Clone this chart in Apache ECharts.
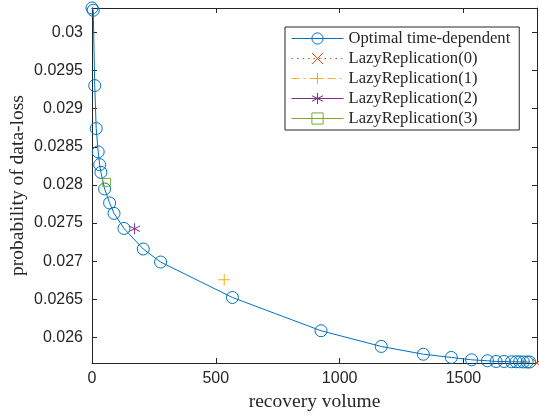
<!DOCTYPE html>
<html>
<head>
<meta charset="utf-8">
<script src="https://cdn.jsdelivr.net/npm/echarts@6/dist/echarts.min.js"></script>
<style>html,body{margin:0;padding:0;background:#fff;}#c{width:539px;height:420px;}</style>
</head>
<body>
<div id="c"></div>
<script>
// Data
const optimalX = [0, 5, 11, 17, 25, 31, 36, 51, 71, 89, 129, 207, 277, 567, 925, 1168, 1338, 1451, 1533, 1597, 1632, 1664, 1694, 1713, 1727, 1742, 1757, 1767];
const optimalY = [0.03032, 0.03029, 0.029303, 0.028739, 0.028433, 0.028266, 0.028165, 0.027947, 0.027764, 0.027627, 0.027430, 0.027160, 0.026989, 0.026524, 0.026088, 0.025882, 0.025780, 0.025738, 0.025707, 0.025694, 0.025685, 0.025685, 0.025681, 0.025681, 0.02568, 0.025679, 0.025678, 0.025678];
const lazy0 = [[1797, 0.025665]];
const lazy1 = [[534, 0.026757]];
const lazy2 = [[172, 0.027426]];
const lazy3 = [[59, 0.028034]];
const seriesNames = ['Optimal time-dependent', 'LazyReplication(0)', 'LazyReplication(1)', 'LazyReplication(2)', 'LazyReplication(3)'];
const colors = ['#0072BD', '#D95319', '#EDB120', '#7E2F8E', '#77AC30'];
const xTicks = [0, 500, 1000, 1500];
const yTicks = [0.026, 0.0265, 0.027, 0.0275, 0.028, 0.0285, 0.029, 0.0295, 0.03];
const xMin = 0, xMax = 1797;
const yMin = 0.025665, yMax = 0.03032;

const axisColor = '#262626';
const tickFont = {color: axisColor, fontSize: 16, fontFamily: 'Liberation Sans, Arial, sans-serif'};
const titleFont = {fontFamily: 'Liberation Serif, serif', fontSize: 19.5, color: axisColor};

function xax(pos, show) {
  return {
    type: 'value', position: pos, min: xMin, max: xMax,
    axisLine: {show: true, onZero: false, lineStyle: {color: axisColor, width: 1}},
    axisTick: {show: true, inside: true, length: 5, customValues: xTicks, lineStyle: {color: axisColor}},
    axisLabel: Object.assign({show: show, margin: 8, customValues: xTicks, formatter: v => String(v)}, tickFont),
    splitLine: {show: false},
    name: show ? 'recovery volume' : '', nameLocation: 'middle', nameGap: 29, nameMoveOverlap: false,
    nameTextStyle: titleFont
  };
}
function yax(pos, show) {
  return {
    type: 'value', position: pos, min: yMin, max: yMax,
    axisLine: {show: true, onZero: false, lineStyle: {color: axisColor, width: 1}},
    axisTick: {show: true, inside: true, length: 5, customValues: yTicks, lineStyle: {color: axisColor}},
    axisLabel: Object.assign({show: show, margin: 9, customValues: yTicks,
      formatter: v => String(parseFloat(v.toFixed(5)))}, tickFont),
    splitLine: {show: false},
    name: show ? 'probability of data-loss' : '', nameLocation: 'middle', nameGap: 64, nameMoveOverlap: false,
    nameTextStyle: titleFont
  };
}

const mk = (name, data, color, symbol, size, lineType) => ({
  name: name, type: 'line', data: data, xAxisIndex: 0, yAxisIndex: 0,
  symbol: symbol, symbolSize: size, showSymbol: true,
  lineStyle: {color: color, width: 1, type: lineType},
  itemStyle: {color: 'rgba(0,0,0,0)', borderColor: color, borderWidth: 1},
  emphasis: {disabled: true}, animation: false
});

const optimalData = optimalX.map((x, i) => [x, optimalY[i]]);

const option = {
  animation: false,
  grid: {left: 92, right: 2, top: 8, bottom: 57, containLabel: false, outerBoundsMode: 'none'},
  xAxis: [xax('bottom', true), xax('top', false)],
  yAxis: [yax('left', true), yax('right', false)],
  legend: {
    orient: 'vertical', left: 285, top: 27,
    backgroundColor: '#fff', borderColor: axisColor, borderWidth: 1,
    padding: [3, 9, 3, 6], itemGap: 3, itemWidth: 52, itemHeight: 14,
    itemStyle: {borderWidth: 1},
    lineStyle: {width: 1},
    textStyle: {fontFamily: 'Liberation Serif, serif', fontSize: 16.6, lineHeight: 17, color: axisColor},
    data: seriesNames
  },
  series: [
    mk(seriesNames[0], optimalData, colors[0], 'circle', 12, 'solid'),
    mk(seriesNames[1], lazy0, colors[1], 'path://M0,0L10,10M10,0L0,10', 8, [1.5, 4]),
    mk(seriesNames[2], lazy1, colors[2], 'path://M5,0L5,10M0,5L10,5', 12, [8, 4, 2, 4]),
    mk(seriesNames[3], lazy2, colors[3], 'path://M5,0L5,10M0.67,2.5L9.33,7.5M0.67,7.5L9.33,2.5', 11, 'solid'),
    mk(seriesNames[4], lazy3, colors[4], 'rect', 8, 'solid')
  ]
};
const chart = echarts.init(document.getElementById('c'), null, {renderer: 'canvas'});
chart.setOption(option);
</script>
</body>
</html>
